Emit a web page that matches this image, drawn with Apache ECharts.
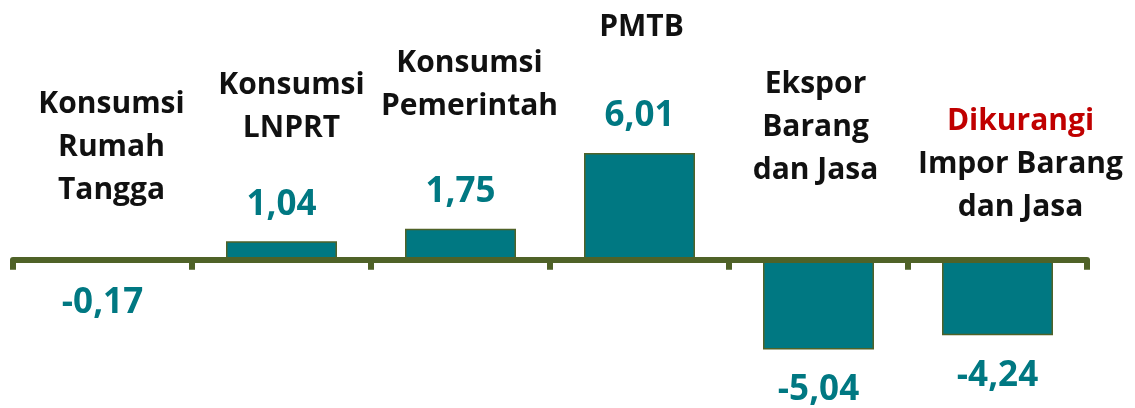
<!DOCTYPE html>
<html>
<head>
<meta charset="utf-8">
<script src="https://cdn.jsdelivr.net/npm/echarts@6/dist/echarts.min.js"></script>
<style>
  html, body { margin: 0; padding: 0; background: #fff; }
  #chart { width: 1135px; height: 408px; }
</style>
</head>
<body>
<div id="chart"></div>
<script>
// data
const categories = [
  "Konsumsi Rumah Tangga",
  "Konsumsi LNPRT",
  "Konsumsi Pemerintah",
  "PMTB",
  "Ekspor Barang dan Jasa",
  "Dikurangi Impor Barang dan Jasa",
];
const nameLines = [
  ["Konsumsi", "Rumah", "Tangga"],
  ["Konsumsi", "LNPRT"],
  ["Konsumsi", "Pemerintah"],
  ["PMTB"],
  ["Ekspor", "Barang", "dan Jasa"],
  ["Dikurangi", "Impor Barang", "dan Jasa"],
];
const values = [-0.17, 1.04, 1.75, 6.01, -5.04, -4.24];

// where the name blocks sit (text boxes, not data)
const nameDx = [9, 10, 9, 2, -3, 23];
const nameCy = [147, 107, 85, 27, 127, 164];

const TEAL = "#007882";
const OLIVE = "#4f6228";

const chart = echarts.init(document.getElementById("chart"));

function fmt(v) {
  return v.toFixed(2).replace(".", ",");
}

const option = {
  backgroundColor: "#fff",
  animation: false,
  grid: { left: 13, right: 48, top: 82, height: 320 },
  xAxis: {
    type: "category",
    data: categories,
    z: 5,
    axisLine: { show: true, onZero: true, lineStyle: { color: OLIVE, width: 6 } },
    axisTick: { show: true, interval: 0, length: 10, lineStyle: { color: OLIVE, width: 6 } },
    axisLabel: { show: false, interval: 0 },
    splitLine: { show: false },
  },
  yAxis: {
    type: "value",
    min: -8,
    max: 10,
    show: false,
  },
  series: [
    {
      type: "bar",
      barWidth: 111,
      itemStyle: { color: TEAL, borderColor: OLIVE, borderWidth: 1.5 },
      label: {
        show: true,
        color: TEAL,
        fontFamily: "Open Sans",
        fontWeight: "bold",
        fontSize: 35,
        formatter: (p) => fmt(p.value),
      },
      data: values.map((v) => ({
        value: v,
        label: v >= 0 ? { position: "top", distance: 19 } : { position: "bottom", distance: 23 },
      })),
    },
  ],
};

chart.setOption(option);

// category names as free text boxes above the bars
const nameStyle = {
  fontFamily: "Open Sans",
  fontWeight: "bold",
  fontSize: 30,
  lineHeight: 43,
};
const graphics = categories.map((c, i) => {
  const x = chart.convertToPixel({ xAxisIndex: 0 }, c) + nameDx[i];
  const text = nameLines[i]
    .map((l) => (l === "Dikurangi" ? "{r|" + l + "}" : "{k|" + l + "}"))
    .join("\n");
  return {
    type: "text",
    x: x,
    y: nameCy[i],
    style: {
      text: text,
      align: "center",
      verticalAlign: "middle",
      rich: {
        k: Object.assign({ fill: "#111" }, nameStyle),
        r: Object.assign({ fill: "#c00000" }, nameStyle),
      },
    },
  };
});
chart.setOption({ graphic: graphics });
</script>
</body>
</html>
